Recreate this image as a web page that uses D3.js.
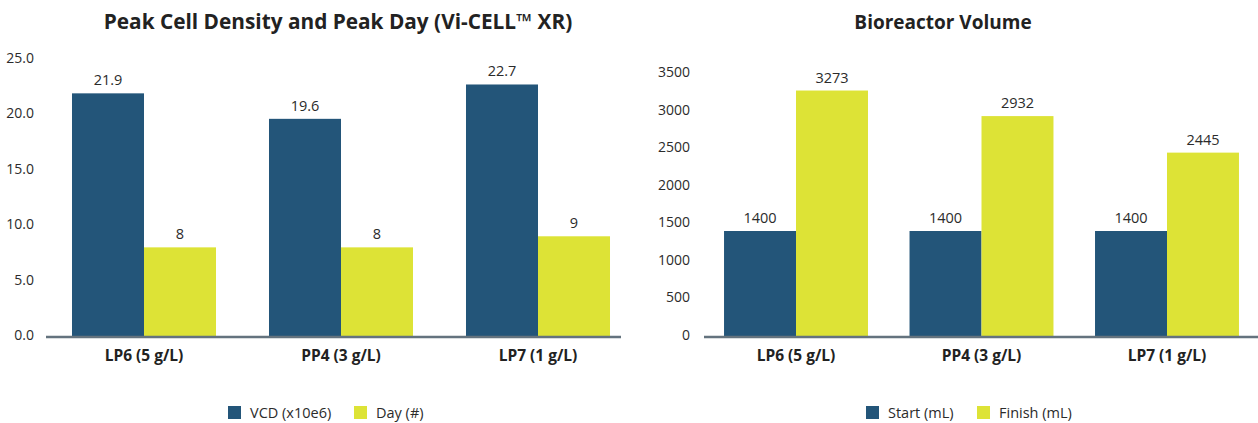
<!DOCTYPE html>
<html>
<head>
<meta charset="utf-8">
<script src="https://cdn.jsdelivr.net/npm/d3@7"></script>
<style>
  html, body { margin: 0; padding: 0; background: #fff; }
  svg { display: block; font-family: "Open Sans", "Noto Sans", sans-serif; }
</style>
</head>
<body>
<svg id="chart" width="1258" height="423"></svg>
<script>
// Shared categories
const categories = ["LP6 (5 g/L)", "PP4 (3 g/L)", "LP7 (1 g/L)"];

// Left panel: peak cell density and peak day
const densityTitle = "Peak Cell Density and Peak Day (Vi-CELL\u2122 XR)";
const densitySeries = ["VCD (x10e6)", "Day (#)"];
const vcdValues = [21.9, 19.6, 22.7];
const dayValues = [8, 8, 9];
const densityTicks = [0, 5, 10, 15, 20, 25];

// Right panel: bioreactor volume
const volumeTitle = "Bioreactor Volume";
const volumeSeries = ["Start (mL)", "Finish (mL)"];
const startValues = [1400, 1400, 1400];
const finishValues = [3273, 2932, 2445];
const volumeTicks = [0, 500, 1000, 1500, 2000, 2500, 3000, 3500];

const colors = ["#235579", "#dde336"];
const textColor = "#2b2b2b";

const svg = d3.select("#chart");

function drawPanel(cfg) {
  const g = svg.append("g");
  const values = [cfg.a, cfg.b];

  const y = d3.scaleLinear().domain([0, cfg.yMax]).range([336, cfg.yTop]);
  const x0 = d3.scaleBand().domain(categories).range(cfg.bandRange)
    .paddingInner(cfg.padInner).paddingOuter(cfg.padOuter);
  const x1 = d3.scaleBand().domain([0, 1]).range([0, x0.bandwidth()]);

  // title
  g.append("text")
    .attr("x", cfg.titleX).attr("y", 29)
    .attr("text-anchor", "middle")
    .attr("font-size", cfg.titleSize).attr("font-weight", 700)
    .attr("fill", "#222")
    .text(cfg.title);

  // y tick labels (no tick marks or gridlines)
  const yAxis = d3.axisLeft(y).tickValues(cfg.ticks).tickFormat(cfg.fmt).tickSize(0).tickPadding(0);
  const ya = g.append("g").attr("transform", `translate(${cfg.tickX},-1)`).call(yAxis);
  ya.select(".domain").remove();
  ya.selectAll("text").attr("font-size", 14).attr("fill", textColor)
    .attr("font-family", "'Open Sans', 'Noto Sans', sans-serif");

  // bars
  const groups = g.selectAll("g.grp").data(categories).join("g")
    .attr("class", "grp")
    .attr("transform", d => `translate(${x0(d)},0)`);

  groups.each(function(cat, i) {
    const grp = d3.select(this);
    [0, 1].forEach(s => {
      const v = values[s][i];
      grp.append("rect")
        .attr("x", x1(s)).attr("width", x1.bandwidth())
        .attr("y", y(v)).attr("height", y(0) - y(v))
        .attr("fill", colors[s]);
      grp.append("text")
        .attr("x", x1(s) + x1.bandwidth() / 2)
        .attr("y", y(v) - 8)
        .attr("text-anchor", "middle")
        .attr("font-size", 14.5).attr("fill", textColor)
        .text(cfg.valFmt(v));
    });
  });

  // baseline
  g.append("line")
    .attr("x1", cfg.lineRange[0]).attr("x2", cfg.lineRange[1])
    .attr("y1", y(0) + 1).attr("y2", y(0) + 1)
    .attr("stroke", "#64737e").attr("stroke-width", 2.5);

  // category labels
  const xAxis = d3.axisBottom(x0).tickSize(0).tickPadding(0);
  const xa = g.append("g").attr("transform", "translate(0,350)").call(xAxis);
  xa.select(".domain").remove();
  xa.selectAll("text").attr("font-size", 15.5).attr("font-weight", 700)
    .attr("fill", "#222").attr("dy", "0.71em")
    .attr("font-family", "'Open Sans', 'Noto Sans', sans-serif");

  // legend
  const leg = g.append("g");
  cfg.series.forEach((name, s) => {
    const lx = cfg.legendX[s];
    leg.append("rect").attr("x", lx).attr("y", 406).attr("width", 13).attr("height", 13)
      .attr("fill", colors[s]);
    leg.append("text").attr("x", lx + 22).attr("y", 418)
      .attr("font-size", 14.5).attr("fill", textColor).text(name);
  });
}

drawPanel({
  title: densityTitle, titleX: 338, titleSize: 20.8,
  a: vcdValues, b: dayValues, series: densitySeries,
  yMax: 25, yTop: 59, ticks: densityTicks,
  fmt: d3.format(".1f"),
  valFmt: v => Number.isInteger(v) ? String(v) : d3.format(".1f")(v),
  tickX: 34,
  bandRange: [45.5, 636.5], padInner: 0.269, padOuter: 0.1345,
  lineRange: [46, 621],
  legendX: [228, 354]
});

drawPanel({
  title: volumeTitle, titleX: 943, titleSize: 19,
  a: startValues, b: finishValues, series: volumeSeries,
  yMax: 3500, yTop: 73.5, ticks: volumeTicks,
  fmt: d3.format("d"),
  valFmt: d3.format("d"),
  tickX: 690,
  bandRange: [704, 1259], padInner: 0.224, padOuter: 0.108,
  lineRange: [704, 1258],
  legendX: [866, 977]
});
</script>
</body>
</html>
